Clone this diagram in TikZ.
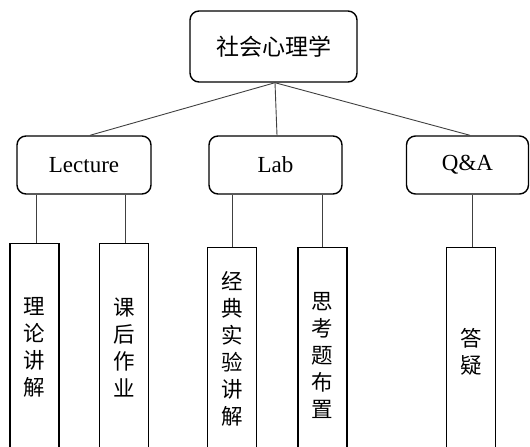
\documentclass[tikz,border=0pt]{standalone}
\usepackage{fontspec}
\setmainfont{Liberation Serif}
\newfontfamily\cjk{Noto Sans CJK SC}
\begin{document}
\begin{tikzpicture}[x=1pt,y=-1pt,
  topbox/.style={draw=black, line width=1.4pt, rounded corners=9pt, minimum width=167pt, minimum height=71pt, inner sep=0pt, font=\cjk\fontsize{23}{27}\selectfont},
  midbox/.style={draw=black, line width=1.4pt, rounded corners=9pt, minimum height=58pt, inner sep=0pt, font=\fontsize{23}{27}\selectfont},
  leaf/.style={draw=black, line width=1.4pt, minimum width=49pt, minimum height=215pt, anchor=north, inner sep=0pt},
  leaftext/.style={align=center, inner sep=0pt, font=\cjk\fontsize{21.5}{27}\selectfont},
  conn/.style={draw=black!75, line width=0.9pt}]
\useasboundingbox (0,0) rectangle (530,447);
\node[topbox] (root) at (273.5,46.5) {社会心理学};
\node[midbox, minimum width=134pt] (lec) at (84,165) {Lecture};
\node[midbox, minimum width=133pt] (lab) at (275.5,165) {Lab};
\node[midbox, minimum width=122pt] (qa) at (467.5,165) {Q\&A};
\node[leaf] (c1) at (34.5,243) {};
\node[leaf] (c2) at (124,243) {};
\node[leaf] (c3) at (232,247) {};
\node[leaf] (c4) at (322.5,247) {};
\node[leaf] (c5) at (471,247) {};
\node[leaftext] (t1) at (34.5,347) {理\\论\\讲\\解};
\node[leaftext] (t2) at (124,347) {课\\后\\作\\业};
\node[leaftext] (t3) at (232,349) {经\\典\\实\\验\\讲\\解};
\node[leaftext] (t4) at (322.5,355) {思\\考\\题\\布\\置};
\node[leaftext] (t5) at (471,352) {答\\疑};
\draw[conn] ([xshift=1.5pt]root.south) -- ([xshift=6pt]lec.north);
\draw[conn] ([xshift=1.5pt]root.south) -- ([xshift=1.5pt]lab.north);
\draw[conn] ([xshift=1.5pt]root.south) -- ([xshift=2.5pt]qa.north);
\draw[conn] ([xshift=1.5pt]c1.north) -- ([xshift=1.5pt]c1.north |- lec.south);
\draw[conn] ([xshift=1pt]c2.north) -- ([xshift=1pt]c2.north |- lec.south);
\draw[conn] (c3.north) -- (c3.north |- lab.south);
\draw[conn] (c4.north) -- (c4.north |- lab.south);
\draw[conn] ([xshift=1pt]c5.north) -- ([xshift=1pt]c5.north |- qa.south);
\end{tikzpicture}
\end{document}
